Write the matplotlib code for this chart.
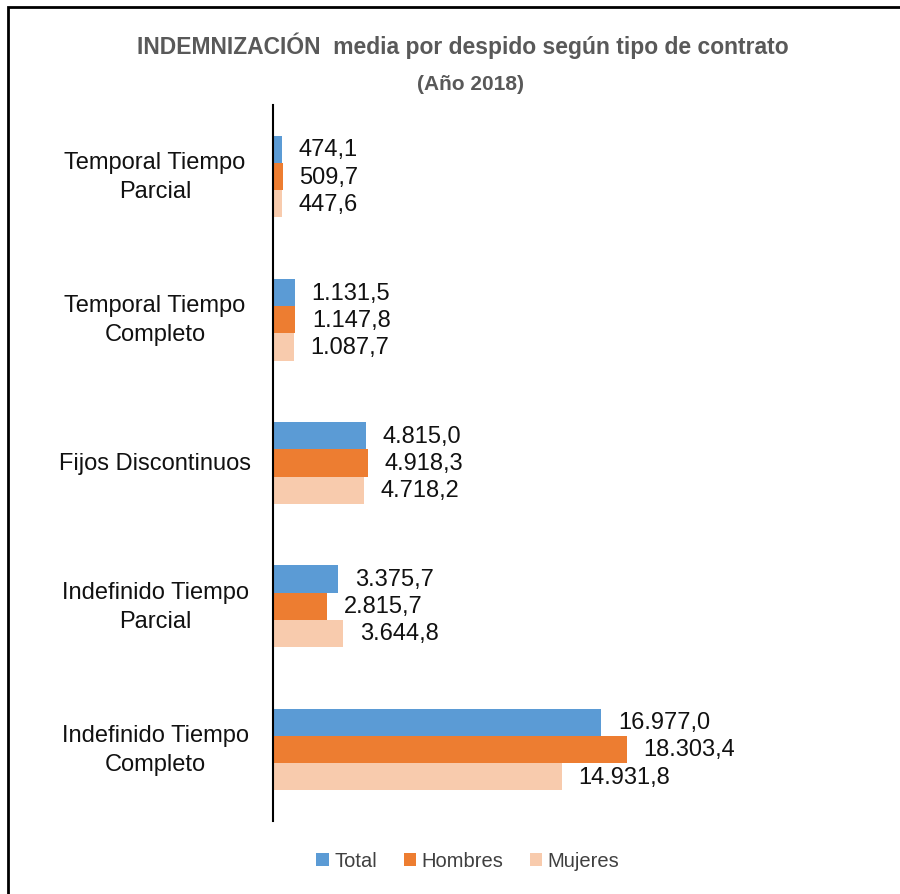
import matplotlib
matplotlib.use("Agg")
import matplotlib.pyplot as plt
from matplotlib.patches import Rectangle, Patch

categories = ["Temporal Tiempo\nParcial", "Temporal Tiempo\nCompleto", "Fijos Discontinuos",
              "Indefinido Tiempo\nParcial", "Indefinido Tiempo\nCompleto"]
series_names = ["Total", "Hombres", "Mujeres"]
total = [474.1, 1131.5, 4815.0, 3375.7, 16977.0]
hombres = [509.7, 1147.8, 4918.3, 2815.7, 18303.4]
mujeres = [447.6, 1087.7, 4718.2, 3644.8, 14931.8]
colors = ["#5B9BD5", "#ED7D31", "#F8CBAD"]

def fmt(v):
    s = f"{v:,.1f}"
    return s.replace(",", "X").replace(".", ",").replace("X", ".")

W, H = 900, 895
plt.rcParams['font.family'] = ['Liberation Sans', 'DejaVu Sans']
fig = plt.figure(figsize=(W / 100, H / 100), dpi=100)

# outer border
fig.add_artist(Rectangle((8 / W, -0.01), 1.02 - 8 / W, 1 - 8 / H + 0.01, transform=fig.transFigure,
                         fill=False, edgecolor="black", linewidth=2))

ax_left, ax_right = 273, 890
ax_top, ax_bot = 106, 822
ax = fig.add_axes([ax_left / W, 1 - ax_bot / H, (ax_right - ax_left) / W, (ax_bot - ax_top) / H])

px_per_unit = 354 / 18303.4
ax.set_xlim(0, (ax_right - ax_left) / px_per_unit)
n = len(categories)
ax.set_ylim(n - 0.5, -0.5)

bh = 0.19
series = [total, hombres, mujeres]
for i, (vals, c) in enumerate(zip(series, colors)):
    offs = (i - 1) * bh
    ys = [k + offs for k in range(n)]
    ax.barh(ys, vals, height=bh, color=c, edgecolor="none")
    for y, v in zip(ys, vals):
        ax.annotate(fmt(v), (v, y), xytext=(12, 0), textcoords="offset points",
                    va="center", ha="left", fontsize=17, color="#111111")

ax.set_yticks([])
ax.set_xticks([])
label_x = (155 - ax_left) / (ax_right - ax_left)
for k, cat in enumerate(categories):
    ax.text(label_x, k, cat, transform=ax.get_yaxis_transform(), ha="center", va="center",
            fontsize=17, linespacing=1.4, color="#111111")

for s in ["top", "right", "bottom"]:
    ax.spines[s].set_visible(False)
ax.spines["left"].set_linewidth(1.5)
ax.spines["left"].set_color("black")

fig.text(463 / W, 1 - 46 / H, "INDEMNIZACIÓN  media por despido según tipo de contrato",
         ha="center", va="center", fontsize=16.5, fontweight="bold", color="#595959")
fig.text(470 / W, 1 - 85 / H, "(Año 2018)", ha="center", va="center", fontsize=15,
         fontweight="bold", color="#595959")

handles = [Patch(facecolor=c, edgecolor="none") for c in colors]
fig.legend(handles, series_names, loc="center", bbox_to_anchor=(468 / W, 1 - 862 / H), ncol=3,
           frameon=False, fontsize=14.5, handlelength=0.6, handleheight=0.6, handletextpad=0.3,
           columnspacing=1.3, labelcolor="#404040")

fig.savefig("out.png", dpi=100)
